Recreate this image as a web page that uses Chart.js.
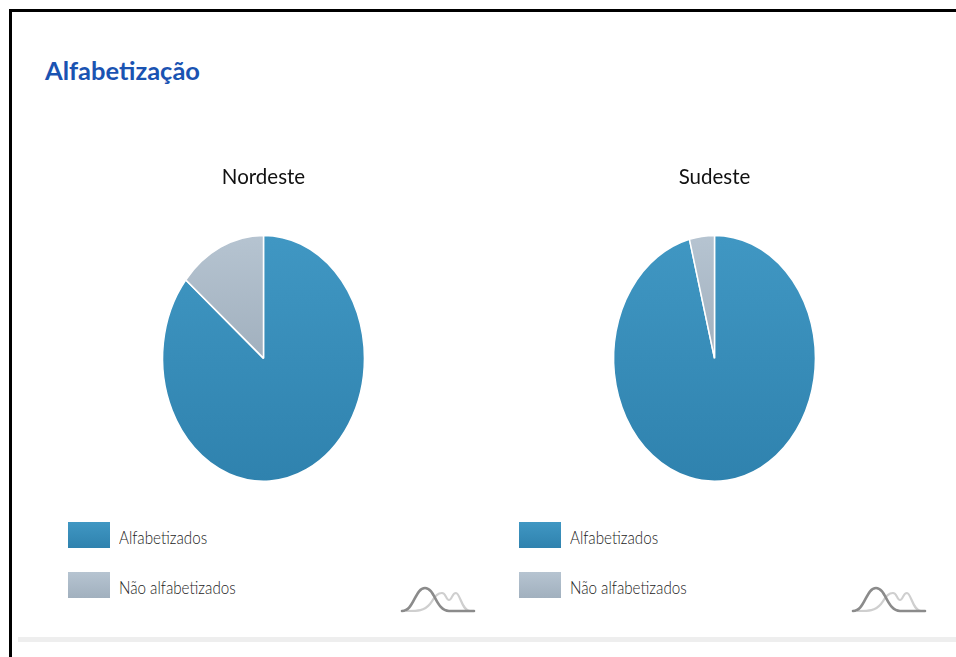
<!DOCTYPE html>
<html lang="pt-BR">
<head>
<meta charset="utf-8">
<title>Alfabetização</title>
<script src="https://cdn.jsdelivr.net/npm/chart.js@4"></script>
<style>
  html, body { margin: 0; padding: 0; width: 956px; height: 657px; overflow: hidden; background: #fff; }
  #frameTop { position: absolute; left: 9px; top: 9px; right: 0; height: 3px; background: #000; }
  #frameLeft { position: absolute; left: 9px; top: 9px; bottom: 0; width: 3px; background: #000; }
  #rule { position: absolute; left: 18px; right: 0; top: 637px; height: 5px; background: #eeeeee; }
  h1 { position: absolute; left: 45px; top: 54px; margin: 0; font: 700 25.5px/32px Lato, sans-serif; color: #1a53b2; }
  canvas { position: absolute; top: 165px; }
  .legend { position: absolute; top: 522px; margin: 0; padding: 0; list-style: none; }
  .legend li { position: relative; height: 26px; margin-bottom: 24px; width: 300px; }
  .swatch { position: absolute; left: 0; top: 0; width: 42px; height: 26px; }
  .legend span.text { position: absolute; left: 51px; top: 0; font: 300 18.5px/30px Lato, sans-serif; color: #1c1c1c; white-space: nowrap; transform: scaleX(0.82); transform-origin: left center; }
  svg.spark { position: absolute; top: 584px; }
</style>
</head>
<body>
<div id="frameTop"></div>
<div id="frameLeft"></div>
<h1>Alfabetização</h1>
<canvas id="pieNordeste" width="451" height="324" style="left:38px;width:451px;height:324px"></canvas>
<canvas id="pieSudeste" width="451" height="324" style="left:489px;width:451px;height:324px"></canvas>
<ul class="legend" id="legendNordeste" style="left:68px"></ul>
<ul class="legend" id="legendSudeste" style="left:519px"></ul>
<svg class="spark" style="left:400px" width="76" height="30" viewBox="400 584 76 30"><use href="#peaks"/></svg>
<svg class="spark" style="left:851px" width="76" height="30" viewBox="400 584 76 30">
  <g id="peaks" fill="none" stroke-linecap="round">
    <path d="M407 611 C418 611 424 611 430 604 C435 597 437 593 442 593 C446 593 446 600 449 600 C452 600 452 593 456 593 C460 593 462 611 470 611 L474 611" stroke="#cfcfcf" stroke-width="2.2"/>
    <path d="M402 611 C414 611 415 588 425 588 C435 588 436 611 449 611 L474 611" stroke="#8b8b8b" stroke-width="2.6"/>
  </g>
</svg>
<div id="rule"></div>

<script>
// Literacy share by region, in percent
const categories = ['Alfabetizados', 'Não alfabetizados'];
const nordesteValues = [86, 14];
const sudesteValues = [96, 4];
const regionTitles = ['Nordeste', 'Sudeste'];

const BLUE_STOPS = ['#4097c3', '#2f82ae'];
const GREY_STOPS = ['#b6c4d1', '#a1b0be'];
const PIE_STRETCH = 245 / 201; // the pies are drawn as tall ellipses

// Blue runs across the whole pie, grey fades from the rim to the centre
function sliceGradient(ctx) {
  const chart = ctx.chart, area = chart.chartArea;
  if (!area) return BLUE_STOPS[0];
  const stops = ctx.dataIndex === 0 ? BLUE_STOPS : GREY_STOPS;
  const bottom = ctx.dataIndex === 0 ? area.bottom : (area.top + area.bottom) / 2;
  const g = chart.ctx.createLinearGradient(0, area.top, 0, bottom);
  g.addColorStop(0, stops[0]);
  g.addColorStop(1, stops[1]);
  return g;
}

// Stretches only the slices vertically around the pie centre
const stretchPie = {
  id: 'stretchPie',
  beforeDatasetsDraw(chart) {
    const c = chart.ctx, cy = (chart.chartArea.top + chart.chartArea.bottom) / 2;
    c.save();
    c.translate(0, cy);
    c.scale(1, PIE_STRETCH);
    c.translate(0, -cy);
  },
  afterDatasetsDraw(chart) { chart.ctx.restore(); }
};

// Lists the chart's categories with swatches in a stacked legend
function buildLegend(chart, id) {
  const ul = document.getElementById(id);
  ul.innerHTML = '';
  chart.data.labels.forEach((label, i) => {
    const stops = i === 0 ? BLUE_STOPS : GREY_STOPS;
    const li = document.createElement('li');
    const sw = document.createElement('span');
    sw.className = 'swatch';
    sw.style.background = `linear-gradient(${stops[0]}, ${stops[1]})`;
    const tx = document.createElement('span');
    tx.className = 'text';
    tx.textContent = label;
    li.append(sw, tx);
    ul.append(li);
  });
}

function makePie(canvasId, legendId, title, values) {
  const chart = new Chart(document.getElementById(canvasId), {
    type: 'pie',
    data: {
      labels: categories,
      datasets: [{
        data: values,
        backgroundColor: sliceGradient,
        borderColor: '#ffffff',
        borderWidth: 1.5,
        hoverOffset: 0
      }]
    },
    options: {
      responsive: false,
      animation: false,
      layout: { padding: { top: 0, bottom: 29, left: 0, right: 0 } },
      plugins: {
        legend: { display: false },
        tooltip: { enabled: false },
        title: {
          display: true,
          text: title,
          color: '#111111',
          font: { family: 'Lato, sans-serif', size: 20.5, weight: 400, lineHeight: 1.25 },
          padding: { top: 0, bottom: 66 }
        }
      }
    },
    plugins: [stretchPie]
  });
  buildLegend(chart, legendId);
  return chart;
}

makePie('pieNordeste', 'legendNordeste', regionTitles[0], nordesteValues);
makePie('pieSudeste', 'legendSudeste', regionTitles[1], sudesteValues);
</script>
</body>
</html>
